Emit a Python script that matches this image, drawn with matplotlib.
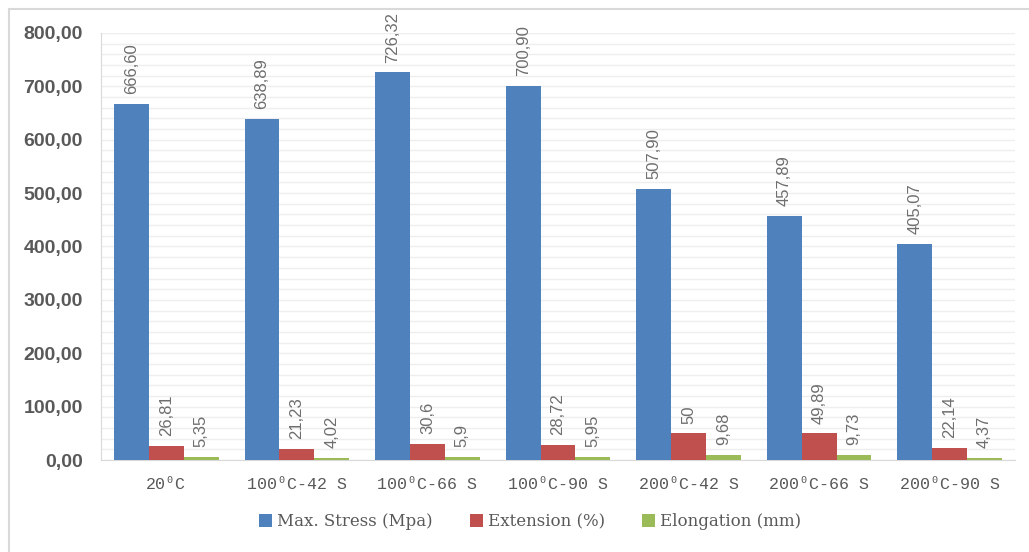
import numpy as np
import matplotlib.pyplot as plt
from matplotlib.ticker import MultipleLocator, FuncFormatter
from matplotlib.patches import Rectangle

categories = ['20⁰C', '100⁰C-42 S', '100⁰C-66 S', '100⁰C-90 S',
              '200⁰C-42 S', '200⁰C-66 S', '200⁰C-90 S']
max_stress = [666.60, 638.89, 726.32, 700.90, 507.90, 457.89, 405.07]
extension = [26.81, 21.23, 30.6, 28.72, 50, 49.89, 22.14]
elongation = [5.35, 4.02, 5.9, 5.95, 9.68, 9.73, 4.37]

series = [
    ('Max. Stress (Mpa)', max_stress, '#4f81bd', '{:.2f}'),
    ('Extension (%)', extension, '#c0504d', '{:g}'),
    ('Elongation (mm)', elongation, '#9bbb59', '{:g}'),
]

fig = plt.figure(figsize=(10.29, 5.52), dpi=100)
ax = fig.add_axes([101 / 1029, 1 - 460 / 552, 914 / 1029, 427 / 552])

x = np.arange(len(categories))
w = 0.267
for i, (name, vals, col, fmt) in enumerate(series):
    pos = x + (i - 1) * w
    bars = ax.bar(pos, vals, w, color=col, label=name, zorder=3)
    for b, v in zip(bars, vals):
        ax.annotate(fmt.format(v).replace('.', ','),
                    (b.get_x() + b.get_width() / 2, b.get_height()),
                    xytext=(0, 7), textcoords='offset points',
                    rotation=90, ha='center', va='bottom',
                    fontsize=12, color='#6e6e6e', family='Liberation Sans')

ax.set_xlim(-0.5, len(categories) - 0.5)
ax.set_ylim(0, 800)
ax.yaxis.set_major_locator(MultipleLocator(100))
ax.yaxis.set_minor_locator(MultipleLocator(20))
ax.yaxis.set_major_formatter(FuncFormatter(lambda v, p: f'{v:.2f}'.replace('.', ',')))
ax.grid(axis='y', which='both', color='#eeeeee', linewidth=1, zorder=0)
ax.set_axisbelow(True)

for s in ['top', 'right']:
    ax.spines[s].set_visible(False)
ax.spines['left'].set_color('#d9d9d9')
ax.spines['bottom'].set_color('#d9d9d9')
ax.tick_params(axis='both', which='both', length=0)
ax.tick_params(axis='y', pad=13)
ax.tick_params(axis='x', pad=12)

ax.set_xticks(x)
ax.set_xticklabels(categories, family=['Liberation Mono', 'DejaVu Sans Mono'],
                   fontsize=12, color='#595959')
for t in ax.get_yticklabels():
    t.set_family('Liberation Sans')
    t.set_fontweight('bold')
    t.set_fontsize(14)
    t.set_color('#595959')

leg = fig.legend(loc='center', bbox_to_anchor=(530 / 1029, 1 - 522 / 552), ncol=3,
                 frameon=False, handlelength=0.8, handleheight=0.8,
                 handletextpad=0.3, columnspacing=2.2,
                 prop={'family': 'DejaVu Serif', 'size': 12})
for t in leg.get_texts():
    t.set_color('#595959')

# chart area border
fig.patches.append(Rectangle((9 / 1029, -0.01), 1.1, 1 - 9 / 552 + 0.01,
                             transform=fig.transFigure, fill=False,
                             edgecolor='#d9d9d9', linewidth=1.5))

fig.savefig('out.png', dpi=100)
